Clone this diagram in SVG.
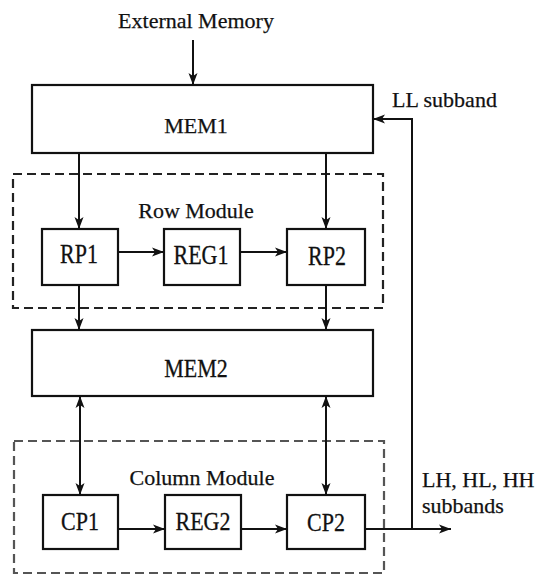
<svg xmlns="http://www.w3.org/2000/svg" width="546" height="576" viewBox="0 0 546 576">
  <style>
    text { font-family: "Liberation Serif", "DejaVu Serif", serif; font-size: 22px; fill: #111; stroke: #111; stroke-width: 0.25; }
    .box { fill: #fff; stroke: #111; stroke-width: 2.2; }
    .module { fill: none; stroke: #222; stroke-width: 2.2; stroke-dasharray: 9 5; }
    .module.light { stroke: #555; }
    .wire { fill: none; stroke: #111; stroke-width: 2; }
    .arrow { marker-end: url(#head); }
    .both { marker-start: url(#headStart); marker-end: url(#head); }
  </style>
  <defs>
    <marker id="head" viewBox="0 0 12 10" refX="12" refY="5" markerWidth="12" markerHeight="10" markerUnits="userSpaceOnUse" orient="auto">
      <path d="M0,0.5 L12,5 L0,9.5 L3,5 Z" fill="#111"/>
    </marker>
    <marker id="headStart" viewBox="0 0 12 10" refX="12" refY="5" markerWidth="12" markerHeight="10" markerUnits="userSpaceOnUse" orient="auto-start-reverse">
      <path d="M0,0.5 L12,5 L0,9.5 L3,5 Z" fill="#111"/>
    </marker>
  </defs>

  <!-- module outlines -->
  <g id="row-module">
    <rect class="module" x="13" y="174" width="370" height="134"/>
    <text x="196" y="218" text-anchor="middle">Row Module</text>
  </g>
  <g id="column-module">
    <rect class="module light" x="14" y="441" width="370" height="132"/>
    <text x="202" y="485" text-anchor="middle">Column Module</text>
  </g>

  <!-- connectors -->
  <g id="connectors">
    <line class="wire arrow" x1="193" y1="40" x2="193" y2="85"/>
    <line class="wire arrow" x1="79" y1="153" x2="79" y2="229"/>
    <line class="wire arrow" x1="326" y1="153" x2="326" y2="229"/>
    <line class="wire arrow" x1="118" y1="252" x2="164" y2="252"/>
    <line class="wire arrow" x1="240" y1="252" x2="287" y2="252"/>
    <line class="wire arrow" x1="79" y1="286" x2="79" y2="330"/>
    <line class="wire arrow" x1="326" y1="286" x2="326" y2="330"/>
    <line class="wire both" x1="80" y1="396" x2="80" y2="495"/>
    <line class="wire both" x1="326" y1="396" x2="326" y2="495"/>
    <line class="wire arrow" x1="118" y1="529" x2="165" y2="529"/>
    <line class="wire arrow" x1="241" y1="529" x2="287" y2="529"/>
    <line class="wire arrow" x1="365" y1="529" x2="451" y2="529"/>
    <polyline class="wire arrow" points="412,529 412,119 373,119"/>
  </g>

  <!-- nodes (small-box labels are drawn slightly tall) -->
  <g id="mem1">
    <rect class="box" x="32" y="85" width="341" height="68"/>
    <text x="196" y="133" text-anchor="middle">MEM1</text>
  </g>
  <g id="rp1">
    <rect class="box" x="42" y="229" width="76" height="56"/>
    <text transform="translate(79,263) scale(1,1.2)" text-anchor="middle">RP1</text>
  </g>
  <g id="reg1">
    <rect class="box" x="164" y="229" width="76" height="56"/>
    <text transform="translate(201,264) scale(1,1.2)" text-anchor="middle">REG1</text>
  </g>
  <g id="rp2">
    <rect class="box" x="287" y="229" width="78" height="56"/>
    <text transform="translate(327,265) scale(1,1.2)" text-anchor="middle">RP2</text>
  </g>
  <g id="mem2">
    <rect class="box" x="32" y="330" width="341" height="66"/>
    <text transform="translate(196,377) scale(1,1.1)" text-anchor="middle">MEM2</text>
  </g>
  <g id="cp1">
    <rect class="box" x="43" y="495" width="75" height="54"/>
    <text transform="translate(80,530) scale(1,1.15)" text-anchor="middle">CP1</text>
  </g>
  <g id="reg2">
    <rect class="box" x="165" y="495" width="76" height="54"/>
    <text transform="translate(203,530) scale(1,1.15)" text-anchor="middle">REG2</text>
  </g>
  <g id="cp2">
    <rect class="box" x="287" y="495" width="78" height="54"/>
    <text transform="translate(326,531) scale(1,1.15)" text-anchor="middle">CP2</text>
  </g>

  <!-- free labels -->
  <g id="labels">
    <text x="196" y="28" text-anchor="middle">External Memory</text>
    <text x="392" y="107">LL subband</text>
    <text x="422" y="487">LH, HL, HH</text>
    <text x="422" y="513">subbands</text>
  </g>
</svg>
